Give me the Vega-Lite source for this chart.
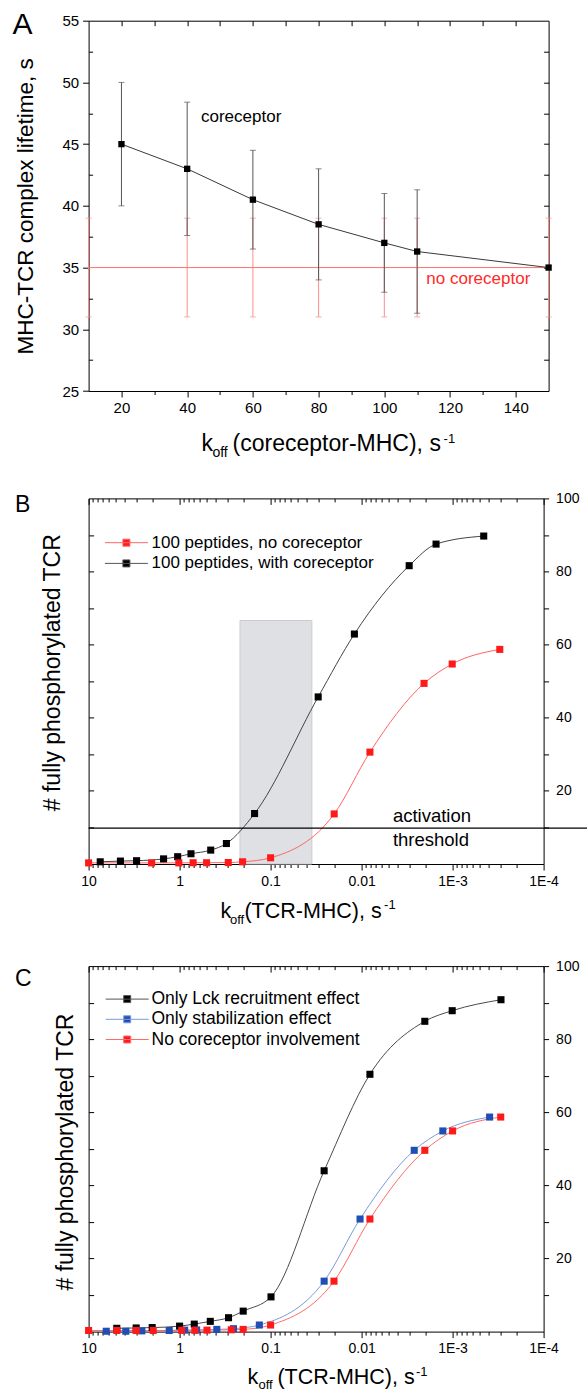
{
"$schema": "https://vega.github.io/schema/vega-lite/v6.json",
"autosize": {"type": "none"},
"padding": {"left": 88.6, "top": 20.7, "right": 498.4, "bottom": 1370.3},
"background": "white",
"config": {
  "view": {"stroke": null},
  "axis": {"grid": false, "domainColor": "#000", "tickColor": "#000", "labelColor": "#000", "titleColor": "#000", "labelFont": "Liberation Sans", "titleFont": "Liberation Sans", "titleFontWeight": "normal", "domainWidth": 1, "tickWidth": 1, "labelFlush": false, "labelOverlap": false},
  "title": {"font": "Liberation Sans", "fontWeight": "normal", "color": "#000"},
  "text": {"font": "Liberation Sans"}
},
"datasets": {
  "a": [
    {"x": 20, "y": 45, "lo": 40, "hi": 50, "s": "coreceptor"},
    {"x": 40, "y": 43, "lo": 37.6, "hi": 48.4, "s": "coreceptor"},
    {"x": 60, "y": 40.5, "lo": 36.5, "hi": 44.5, "s": "coreceptor"},
    {"x": 80, "y": 38.5, "lo": 34, "hi": 43, "s": "coreceptor"},
    {"x": 100, "y": 37, "lo": 33, "hi": 41, "s": "coreceptor"},
    {"x": 110, "y": 36.3, "lo": 31.3, "hi": 41.3, "s": "coreceptor"},
    {"x": 150, "y": 35, "lo": null, "hi": null, "s": "coreceptor"},
    {"x": 10, "y": 35, "lo": 31, "hi": 39, "s": "no coreceptor"},
    {"x": 40, "y": 35, "lo": 31, "hi": 39, "s": "no coreceptor"},
    {"x": 60, "y": 35, "lo": 31, "hi": 39, "s": "no coreceptor"},
    {"x": 80, "y": 35, "lo": 31, "hi": 39, "s": "no coreceptor"},
    {"x": 100, "y": 35, "lo": 31, "hi": 39, "s": "no coreceptor"},
    {"x": 110, "y": 35, "lo": 31, "hi": 39, "s": "no coreceptor"},
    {"x": 150, "y": 35, "lo": 31, "hi": 39, "s": "no coreceptor"}
  ],
  "aLab": [
    {"x": 44.2, "y": 47.2, "t": "coreceptor", "s": "coreceptor"},
    {"x": 112.8, "y": 34.05, "t": "no coreceptor", "s": "no coreceptor"}
  ],
  "b": [
    {"k": 7.45, "n": 0.6, "s": "100 peptides, with coreceptor"},
    {"k": 4.47, "n": 0.8, "s": "100 peptides, with coreceptor"},
    {"k": 2.97, "n": 0.9, "s": "100 peptides, with coreceptor"},
    {"k": 1.5, "n": 1.4, "s": "100 peptides, with coreceptor"},
    {"k": 1.05, "n": 2.0, "s": "100 peptides, with coreceptor"},
    {"k": 0.75, "n": 2.8, "s": "100 peptides, with coreceptor"},
    {"k": 0.455, "n": 3.8, "s": "100 peptides, with coreceptor"},
    {"k": 0.306, "n": 5.6, "s": "100 peptides, with coreceptor"},
    {"k": 0.15, "n": 13.8, "s": "100 peptides, with coreceptor"},
    {"k": 0.03, "n": 45.7, "s": "100 peptides, with coreceptor"},
    {"k": 0.012, "n": 62.9, "s": "100 peptides, with coreceptor"},
    {"k": 0.003, "n": 81.6, "s": "100 peptides, with coreceptor"},
    {"k": 0.00152, "n": 87.5, "s": "100 peptides, with coreceptor"},
    {"k": 0.000455, "n": 89.7, "s": "100 peptides, with coreceptor"},
    {"k": 10, "n": 0.3, "s": "100 peptides, no coreceptor"},
    {"k": 2.03, "n": 0.3, "s": "100 peptides, no coreceptor"},
    {"k": 1.02, "n": 0.3, "s": "100 peptides, no coreceptor"},
    {"k": 0.71, "n": 0.35, "s": "100 peptides, no coreceptor"},
    {"k": 0.505, "n": 0.35, "s": "100 peptides, no coreceptor"},
    {"k": 0.292, "n": 0.4, "s": "100 peptides, no coreceptor"},
    {"k": 0.203, "n": 0.6, "s": "100 peptides, no coreceptor"},
    {"k": 0.1, "n": 1.7, "s": "100 peptides, no coreceptor"},
    {"k": 0.02, "n": 13.7, "s": "100 peptides, no coreceptor"},
    {"k": 0.0081, "n": 30.6, "s": "100 peptides, no coreceptor"},
    {"k": 0.00206, "n": 49.4, "s": "100 peptides, no coreceptor"},
    {"k": 0.00101, "n": 54.7, "s": "100 peptides, no coreceptor"},
    {"k": 0.000303, "n": 58.7, "s": "100 peptides, no coreceptor"}
  ],
  "shade": [{"k1": 0.217, "k2": 0.0352, "v1": 0, "v2": 66.6}],
  "thr": [{"k1": 10, "k2": 0.00003, "v": 9.8}],
  "bLab": [
    {"k": 0.00453, "v": 13.0, "t": "activation"},
    {"k": 0.00453, "v": 6.6, "t": "threshold"}
  ],
  "c": [
    {"k": 4.9, "n": 0.9, "s": "Only Lck recruitment effect"},
    {"k": 3.0, "n": 1.0, "s": "Only Lck recruitment effect"},
    {"k": 2.0, "n": 1.1, "s": "Only Lck recruitment effect"},
    {"k": 1.0, "n": 1.5, "s": "Only Lck recruitment effect"},
    {"k": 0.69, "n": 2.05, "s": "Only Lck recruitment effect"},
    {"k": 0.46, "n": 2.8, "s": "Only Lck recruitment effect"},
    {"k": 0.29, "n": 3.8, "s": "Only Lck recruitment effect"},
    {"k": 0.2, "n": 5.6, "s": "Only Lck recruitment effect"},
    {"k": 0.099, "n": 9.5, "s": "Only Lck recruitment effect"},
    {"k": 0.0258, "n": 44.0, "s": "Only Lck recruitment effect"},
    {"k": 0.0081, "n": 70.4, "s": "Only Lck recruitment effect"},
    {"k": 0.00202, "n": 84.9, "s": "Only Lck recruitment effect"},
    {"k": 0.00101, "n": 87.8, "s": "Only Lck recruitment effect"},
    {"k": 0.000294, "n": 90.8, "s": "Only Lck recruitment effect"},
    {"k": 6.4, "n": 0.1, "s": "Only stabilization effect"},
    {"k": 3.9, "n": 0.1, "s": "Only stabilization effect"},
    {"k": 2.6, "n": 0.2, "s": "Only stabilization effect"},
    {"k": 1.3, "n": 0.3, "s": "Only stabilization effect"},
    {"k": 0.88, "n": 0.4, "s": "Only stabilization effect"},
    {"k": 0.65, "n": 0.45, "s": "Only stabilization effect"},
    {"k": 0.39, "n": 0.6, "s": "Only stabilization effect"},
    {"k": 0.256, "n": 0.8, "s": "Only stabilization effect"},
    {"k": 0.133, "n": 1.8, "s": "Only stabilization effect"},
    {"k": 0.0258, "n": 13.8, "s": "Only stabilization effect"},
    {"k": 0.0104, "n": 30.8, "s": "Only stabilization effect"},
    {"k": 0.00264, "n": 49.6, "s": "Only stabilization effect"},
    {"k": 0.00128, "n": 54.9, "s": "Only stabilization effect"},
    {"k": 0.000392, "n": 58.7, "s": "Only stabilization effect"},
    {"k": 10, "n": 0.3, "s": "No coreceptor involvement"},
    {"k": 4.9, "n": 0.3, "s": "No coreceptor involvement"},
    {"k": 3.0, "n": 0.3, "s": "No coreceptor involvement"},
    {"k": 1.95, "n": 0.3, "s": "No coreceptor involvement"},
    {"k": 0.95, "n": 0.35, "s": "No coreceptor involvement"},
    {"k": 0.68, "n": 0.35, "s": "No coreceptor involvement"},
    {"k": 0.5, "n": 0.4, "s": "No coreceptor involvement"},
    {"k": 0.27, "n": 0.5, "s": "No coreceptor involvement"},
    {"k": 0.2, "n": 0.6, "s": "No coreceptor involvement"},
    {"k": 0.1, "n": 1.8, "s": "No coreceptor involvement"},
    {"k": 0.0201, "n": 13.8, "s": "No coreceptor involvement"},
    {"k": 0.0081, "n": 30.8, "s": "No coreceptor involvement"},
    {"k": 0.00202, "n": 49.6, "s": "No coreceptor involvement"},
    {"k": 0.001, "n": 54.9, "s": "No coreceptor involvement"},
    {"k": 0.000296, "n": 58.7, "s": "No coreceptor involvement"}
  ]
},
"spacing": 106.7,
"bounds": "flush",
"resolve": {"scale": {"fill": "independent", "stroke": "independent", "color": "independent"}, "legend": {"fill": "independent", "stroke": "independent", "color": "independent"}},
"vconcat": [
{
  "width": 460, "height": 370.3,
  "title": {"text": "A", "anchor": "start", "frame": "group", "orient": "top", "align": "left", "baseline": "alphabetic", "fontSize": 30, "offset": -50.3, "dx": -76.2},
  "layer": [
    {"data": {"name": "a"}, "transform": [{"filter": "datum.s == 'no coreceptor'"}],
     "mark": {"type": "rule", "color": "#ff8c8c", "strokeWidth": 1},
     "encoding": {
       "x": {"field": "x", "type": "quantitative", "scale": {"domain": [10, 150], "nice": false, "zero": false},
             "axis": {"orient": "bottom", "values": [20, 40, 60, 80, 100, 120, 140], "tickSize": 6, "labelPadding": 3, "labelFontSize": 15, "domain": true, "title": "(coreceptor-MHC), s", "titleX": 143.5, "titleY": 59, "titleAlign": "left", "titleBaseline": "alphabetic", "titleFontSize": 23}},
       "y": {"field": "lo", "type": "quantitative", "scale": {"domain": [25, 55], "nice": false, "zero": false},
             "axis": {"orient": "left", "values": [25, 30, 35, 40, 45, 50, 55], "tickSize": 6, "labelPadding": 4, "labelFontSize": 15, "domain": true, "title": "MHC-TCR complex lifetime, s", "titleFontSize": 22.5, "titleX": -63.5, "titleY": 185.2, "titleBaseline": "middle"}},
       "y2": {"field": "hi"}
     }},
    {"data": {"name": "a"}, "transform": [{"filter": "datum.s == 'no coreceptor'"}, {"fold": ["lo", "hi"], "as": ["w", "v"]}],
     "mark": {"type": "tick", "orient": "horizontal", "color": "#ff8c8c", "size": 6, "thickness": 1},
     "encoding": {
       "x": {"field": "x", "type": "quantitative", "scale": {"domain": [10, 150], "nice": false, "zero": false},
             "axis": {"orient": "top", "values": [20, 30, 40, 50, 60, 70, 80, 90, 100, 110, 120, 130, 140], "tickSize": -5, "labels": false, "domain": true, "title": "-1", "titleX": 354.5, "titleY": 421.3, "titleAlign": "left", "titleBaseline": "alphabetic", "titleFontSize": 13}},
       "y": {"field": "v", "type": "quantitative", "scale": {"domain": [25, 55], "nice": false, "zero": false},
             "axis": {"orient": "right", "values": [27.5, 30, 32.5, 35, 37.5, 40, 42.5, 45, 47.5, 50, 52.5], "tickSize": -5, "labels": false, "domain": true, "title": null}}
     }},
    {"data": {"name": "a"}, "transform": [{"filter": "datum.s == 'no coreceptor'"}],
     "mark": {"type": "line", "color": "#ff7070", "strokeWidth": 1},
     "encoding": {
       "x": {"field": "x", "type": "quantitative", "scale": {"domain": [10, 150], "nice": false, "zero": false},
             "axis": {"orient": "bottom", "values": [30, 50, 70, 90, 110, 130], "tickSize": 3.5, "labels": false, "domain": false, "title": "off", "titleX": 123.3, "titleY": 65, "titleAlign": "left", "titleBaseline": "alphabetic", "titleFontSize": 14}},
       "y": {"field": "y", "type": "quantitative", "scale": {"domain": [25, 55], "nice": false, "zero": false},
             "axis": {"orient": "left", "values": [27.5, 32.5, 37.5, 42.5, 47.5, 52.5], "tickSize": -4, "labels": false, "domain": false, "title": null}}
     }},
    {"data": {"name": "a"}, "transform": [{"filter": "datum.s == 'coreceptor'"}],
     "mark": {"type": "rule", "color": "#555555", "strokeWidth": 1},
     "encoding": {
       "x": {"field": "x", "type": "quantitative", "scale": {"domain": [10, 150], "nice": false, "zero": false},
             "axis": {"orient": "top", "ticks": false, "labels": false, "domain": false, "title": "k", "titleX": 112.5, "titleY": 429.3, "titleAlign": "left", "titleBaseline": "alphabetic", "titleFontSize": 23}},
       "y": {"field": "lo", "type": "quantitative", "scale": {"domain": [25, 55], "nice": false, "zero": false}, "axis": null},
       "y2": {"field": "hi"}
     }},
    {"data": {"name": "a"}, "transform": [{"filter": "datum.s == 'coreceptor'"}, {"fold": ["lo", "hi"], "as": ["w", "v"]}],
     "mark": {"type": "tick", "orient": "horizontal", "color": "#555555", "size": 6, "thickness": 1},
     "encoding": {
       "x": {"field": "x", "type": "quantitative", "scale": {"domain": [10, 150], "nice": false, "zero": false}, "axis": null},
       "y": {"field": "v", "type": "quantitative", "scale": {"domain": [25, 55], "nice": false, "zero": false}, "axis": null}
     }},
    {"data": {"name": "a"}, "transform": [{"filter": "datum.s == 'coreceptor'"}],
     "mark": {"type": "line", "color": "#3a3a3a", "strokeWidth": 1},
     "encoding": {
       "x": {"field": "x", "type": "quantitative", "scale": {"domain": [10, 150], "nice": false, "zero": false}, "axis": null},
       "y": {"field": "y", "type": "quantitative", "scale": {"domain": [25, 55], "nice": false, "zero": false}, "axis": null}
     }},
    {"data": {"name": "a"}, "transform": [{"filter": "datum.s == 'coreceptor'"}],
     "mark": {"type": "point", "shape": "square", "filled": true, "color": "#000000", "size": 40, "opacity": 1},
     "encoding": {
       "x": {"field": "x", "type": "quantitative", "scale": {"domain": [10, 150], "nice": false, "zero": false}, "axis": null},
       "y": {"field": "y", "type": "quantitative", "scale": {"domain": [25, 55], "nice": false, "zero": false}, "axis": null}
     }},
    {"data": {"name": "aLab"},
     "mark": {"type": "text", "align": "left", "baseline": "middle", "fontSize": 17},
     "encoding": {
       "x": {"field": "x", "type": "quantitative", "scale": {"domain": [10, 150], "nice": false, "zero": false}, "axis": null},
       "y": {"field": "y", "type": "quantitative", "scale": {"domain": [25, 55], "nice": false, "zero": false}, "axis": null},
       "text": {"field": "t"},
       "color": {"field": "s", "type": "nominal", "scale": {"domain": ["coreceptor", "no coreceptor"], "range": ["#000000", "#ff2a2a"]}, "legend": null}
     }}
  ]
},
{
  "spacing": 101.7,
  "bounds": "flush",
  "resolve": {"scale": {"fill": "independent", "stroke": "independent", "color": "independent"}, "legend": {"fill": "independent", "stroke": "independent", "color": "independent"}},
  "vconcat": [
  {
    "width": 455, "height": 365.6,
    "title": {"text": "B", "anchor": "start", "frame": "group", "orient": "top", "align": "left", "baseline": "alphabetic", "fontSize": 23, "offset": -44, "dx": -73.7},
    "layer": [
      {"data": {"name": "shade"},
       "mark": {"type": "rect", "fill": "#dfe0e4", "stroke": "#cbccd0", "strokeWidth": 1},
       "encoding": {
         "x": {"field": "k1", "type": "quantitative", "scale": {"type": "log", "domain": [0.0001, 10], "reverse": true, "nice": false},
               "axis": {"orient": "bottom", "values": [10, 1, 0.1, 0.01, 0.001, 0.0001], "labelExpr": "datum.value == 10 ? '10' : datum.value == 1 ? '1' : datum.value == 0.1 ? '0.1' : datum.value == 0.01 ? '0.01' : datum.value == 0.001 ? '1E-3' : '1E-4'", "tickSize": 6, "labelPadding": 4, "labelFontSize": 14, "domain": true, "title": "(TCR-MHC), s", "titleX": 155.3, "titleY": 53, "titleAlign": "left", "titleBaseline": "alphabetic", "titleFontSize": 21.5}},
         "x2": {"field": "k2"},
         "y": {"field": "v1", "type": "quantitative", "scale": {"domain": [0, 100], "nice": false, "zero": false},
               "axis": {"orient": "left", "values": [10, 20, 30, 40, 50, 60, 70, 80, 90], "tickSize": -5, "labels": false, "domain": true, "title": "# fully phosphorylated TCR", "titleFontSize": 23, "titleX": -35.7, "titleY": 173.8, "titleBaseline": "middle"}},
         "y2": {"field": "v2"}
       }},
      {"data": {"name": "b"}, "transform": [{"filter": "datum.s == '100 peptides, no coreceptor'"}],
       "mark": {"type": "line", "color": "#ff6464", "strokeWidth": 1, "interpolate": "monotone"},
       "encoding": {
         "x": {"field": "k", "type": "quantitative", "scale": {"type": "log", "domain": [0.0001, 10], "reverse": true, "nice": false},
               "axis": {"orient": "top", "values": [10, 1, 0.1, 0.01, 0.001, 0.0001], "tickSize": -6, "labels": false, "domain": true, "title": "-1", "titleX": 295, "titleY": 409.6, "titleAlign": "left", "titleBaseline": "alphabetic", "titleFontSize": 13}},
         "y": {"field": "n", "type": "quantitative", "scale": {"domain": [0, 100], "nice": false, "zero": false},
               "axis": {"orient": "right", "values": [10, 20, 30, 40, 50, 60, 70, 80, 90, 100], "labelExpr": "datum.value % 20 == 0 ? datum.label : ''", "tickSize": 5, "labelPadding": 7, "labelFontSize": 14, "domain": true, "title": null}},
         "order": {"field": "k", "sort": "descending"}
       }},
      {"data": {"name": "b"}, "transform": [{"filter": "datum.s == '100 peptides, with coreceptor'"}],
       "mark": {"type": "line", "color": "#444444", "strokeWidth": 1, "interpolate": "monotone"},
       "encoding": {
         "x": {"field": "k", "type": "quantitative", "scale": {"type": "log", "domain": [0.0001, 10], "reverse": true, "nice": false},
               "axis": {"orient": "bottom", "values": [0.0002, 0.0003, 0.0004, 0.0005, 0.0006, 0.0007, 0.0008, 0.0009, 0.002, 0.003, 0.004, 0.005, 0.006, 0.007, 0.008, 0.009, 0.02, 0.03, 0.04, 0.05, 0.06, 0.07, 0.08, 0.09, 0.2, 0.3, 0.4, 0.5, 0.6, 0.7, 0.8, 0.9, 2, 3, 4, 5, 6, 7, 8, 9], "tickSize": 3.5, "labels": false, "domain": false, "title": "off", "titleX": 140.8, "titleY": 59, "titleAlign": "left", "titleBaseline": "alphabetic", "titleFontSize": 13}},
         "y": {"field": "n", "type": "quantitative", "scale": {"domain": [0, 100], "nice": false, "zero": false}, "axis": null},
         "order": {"field": "k", "sort": "descending"}
       }},
      {"data": {"name": "thr"},
       "mark": {"type": "rule", "color": "#000000", "strokeWidth": 1.2},
       "encoding": {
         "x": {"field": "k1", "type": "quantitative", "scale": {"type": "log", "domain": [0.0001, 10], "reverse": true, "nice": false},
               "axis": {"orient": "top", "values": [0.0002, 0.0003, 0.0004, 0.0005, 0.0006, 0.0007, 0.0008, 0.0009, 0.002, 0.003, 0.004, 0.005, 0.006, 0.007, 0.008, 0.009, 0.02, 0.03, 0.04, 0.05, 0.06, 0.07, 0.08, 0.09, 0.2, 0.3, 0.4, 0.5, 0.6, 0.7, 0.8, 0.9, 2, 3, 4, 5, 6, 7, 8, 9], "tickSize": -3.5, "labels": false, "domain": false, "title": "k", "titleX": 131.3, "titleY": 418.6, "titleAlign": "left", "titleBaseline": "alphabetic", "titleFontSize": 21.5}},
         "x2": {"field": "k2"},
         "y": {"field": "v", "type": "quantitative", "scale": {"domain": [0, 100], "nice": false, "zero": false}, "axis": null}
       }},
      {"data": {"name": "b"},
       "mark": {"type": "point", "shape": "square", "filled": true, "size": 50, "strokeWidth": 0, "opacity": 1},
       "encoding": {
         "x": {"field": "k", "type": "quantitative", "scale": {"type": "log", "domain": [0.0001, 10], "reverse": true, "nice": false}, "axis": null},
         "y": {"field": "n", "type": "quantitative", "scale": {"domain": [0, 100], "nice": false, "zero": false}, "axis": null},
         "fill": {"field": "s", "type": "nominal", "scale": {"domain": ["100 peptides, no coreceptor", "100 peptides, with coreceptor"], "range": ["#ff1a1a", "#000000"]},
                  "legend": {"orient": "none", "legendX": 27.3, "legendY": 33.8, "title": null, "symbolType": "M-2.15,0H2.15M-0.35,-0.35H0.35V0.35H-0.35Z", "symbolSize": 400, "symbolStrokeWidth": 1, "symbolOpacity": 1, "labelFont": "Liberation Sans", "labelFontSize": 17, "labelColor": "#000", "labelOffset": 14.6, "symbolOffset": 0, "rowPadding": 1.7, "padding": 0, "labelLimit": 400,
                             "encode": {"symbols": {"update": {"shape": {"value": "M-2.15,0H2.15M-0.35,-0.35H0.35V0.35H-0.35Z"}, "size": {"value": 400}, "strokeWidth": {"value": 1}, "opacity": {"value": 1}}}}}},
         "stroke": {"field": "s", "type": "nominal", "scale": {"domain": ["100 peptides, no coreceptor", "100 peptides, with coreceptor"], "range": ["#ff6464", "#555555"]},
                  "legend": {"orient": "none", "legendX": 27.3, "legendY": 33.8, "title": null, "symbolType": "M-2.15,0H2.15M-0.35,-0.35H0.35V0.35H-0.35Z", "symbolSize": 400, "symbolStrokeWidth": 1, "symbolOpacity": 1, "labelFont": "Liberation Sans", "labelFontSize": 17, "labelColor": "#000", "labelOffset": 14.6, "symbolOffset": 0, "rowPadding": 1.7, "padding": 0, "labelLimit": 400,
                             "encode": {"symbols": {"update": {"shape": {"value": "M-2.15,0H2.15M-0.35,-0.35H0.35V0.35H-0.35Z"}, "size": {"value": 400}, "strokeWidth": {"value": 1}, "opacity": {"value": 1}}}}}}
       }},
      {"data": {"name": "bLab"},
       "mark": {"type": "text", "align": "left", "baseline": "middle", "fontSize": 18.5, "color": "#000"},
       "encoding": {
         "x": {"field": "k", "type": "quantitative", "scale": {"type": "log", "domain": [0.0001, 10], "reverse": true, "nice": false}, "axis": null},
         "y": {"field": "v", "type": "quantitative", "scale": {"domain": [0, 100], "nice": false, "zero": false}, "axis": null},
         "text": {"field": "t"}
       }}
    ]
  },
  {
    "width": 455, "height": 365.5,
    "title": {"text": "C", "anchor": "start", "frame": "group", "orient": "top", "align": "left", "baseline": "alphabetic", "fontSize": 23, "offset": -50, "dx": -73.7},
    "layer": [
      {"data": {"name": "c"}, "transform": [{"filter": "datum.s == 'Only Lck recruitment effect'"}],
       "mark": {"type": "line", "color": "#4a4a4a", "strokeWidth": 1, "interpolate": "monotone"},
       "encoding": {
         "x": {"field": "k", "type": "quantitative", "scale": {"type": "log", "domain": [0.0001, 10], "reverse": true, "nice": false},
               "axis": {"orient": "bottom", "values": [10, 1, 0.1, 0.01, 0.001, 0.0001], "labelExpr": "datum.value == 10 ? '10' : datum.value == 1 ? '1' : datum.value == 0.1 ? '0.1' : datum.value == 0.01 ? '0.01' : datum.value == 0.001 ? '1E-3' : '1E-4'", "tickSize": 6, "labelPadding": 4, "labelFontSize": 14, "domain": true, "title": "(TCR-MHC), s", "titleX": 188.3, "titleY": 51.5, "titleAlign": "left", "titleBaseline": "alphabetic", "titleFontSize": 21.5}},
         "y": {"field": "n", "type": "quantitative", "scale": {"domain": [0, 100], "nice": false, "zero": false},
               "axis": {"orient": "left", "values": [10, 20, 30, 40, 50, 60, 70, 80, 90], "tickSize": -5, "labels": false, "domain": true, "title": "# fully phosphorylated TCR", "titleFontSize": 23, "titleX": -23.2, "titleY": 185.5, "titleBaseline": "middle"}},
         "order": {"field": "k", "sort": "descending"}
       }},
      {"data": {"name": "c"}, "transform": [{"filter": "datum.s == 'Only stabilization effect'"}],
       "mark": {"type": "line", "color": "#7b9ad9", "strokeWidth": 1, "interpolate": "monotone"},
       "encoding": {
         "x": {"field": "k", "type": "quantitative", "scale": {"type": "log", "domain": [0.0001, 10], "reverse": true, "nice": false},
               "axis": {"orient": "top", "values": [10, 1, 0.1, 0.01, 0.001, 0.0001], "tickSize": -6, "labels": false, "domain": true, "title": "-1", "titleX": 326.9, "titleY": 409, "titleAlign": "left", "titleBaseline": "alphabetic", "titleFontSize": 13}},
         "y": {"field": "n", "type": "quantitative", "scale": {"domain": [0, 100], "nice": false, "zero": false},
               "axis": {"orient": "right", "values": [10, 20, 30, 40, 50, 60, 70, 80, 90, 100], "labelExpr": "datum.value % 20 == 0 ? datum.label : ''", "tickSize": 5, "labelPadding": 7, "labelFontSize": 14, "domain": true, "title": null}},
         "order": {"field": "k", "sort": "descending"}
       }},
      {"data": {"name": "c"}, "transform": [{"filter": "datum.s == 'No coreceptor involvement'"}],
       "mark": {"type": "line", "color": "#ff6a6a", "strokeWidth": 1, "interpolate": "monotone"},
       "encoding": {
         "x": {"field": "k", "type": "quantitative", "scale": {"type": "log", "domain": [0.0001, 10], "reverse": true, "nice": false},
               "axis": {"orient": "bottom", "values": [0.0002, 0.0003, 0.0004, 0.0005, 0.0006, 0.0007, 0.0008, 0.0009, 0.002, 0.003, 0.004, 0.005, 0.006, 0.007, 0.008, 0.009, 0.02, 0.03, 0.04, 0.05, 0.06, 0.07, 0.08, 0.09, 0.2, 0.3, 0.4, 0.5, 0.6, 0.7, 0.8, 0.9, 2, 3, 4, 5, 6, 7, 8, 9], "tickSize": 3.5, "labels": false, "domain": false, "title": "off", "titleX": 169.3, "titleY": 57, "titleAlign": "left", "titleBaseline": "alphabetic", "titleFontSize": 13}},
         "y": {"field": "n", "type": "quantitative", "scale": {"domain": [0, 100], "nice": false, "zero": false}, "axis": null},
         "order": {"field": "k", "sort": "descending"}
       }},
      {"data": {"name": "c"},
       "mark": {"type": "point", "shape": "square", "filled": true, "size": 50, "strokeWidth": 0, "opacity": 1},
       "encoding": {
         "x": {"field": "k", "type": "quantitative", "scale": {"type": "log", "domain": [0.0001, 10], "reverse": true, "nice": false},
               "axis": {"orient": "top", "values": [0.0002, 0.0003, 0.0004, 0.0005, 0.0006, 0.0007, 0.0008, 0.0009, 0.002, 0.003, 0.004, 0.005, 0.006, 0.007, 0.008, 0.009, 0.02, 0.03, 0.04, 0.05, 0.06, 0.07, 0.08, 0.09, 0.2, 0.3, 0.4, 0.5, 0.6, 0.7, 0.8, 0.9, 2, 3, 4, 5, 6, 7, 8, 9], "tickSize": -3.5, "labels": false, "domain": false, "title": "k", "titleX": 158.3, "titleY": 417, "titleAlign": "left", "titleBaseline": "alphabetic", "titleFontSize": 21.5}},
         "y": {"field": "n", "type": "quantitative", "scale": {"domain": [0, 100], "nice": false, "zero": false}, "axis": null},
         "fill": {"field": "s", "type": "nominal", "scale": {"domain": ["Only Lck recruitment effect", "Only stabilization effect", "No coreceptor involvement"], "range": ["#000000", "#1f4eb4", "#ff1a1a"]},
                  "legend": {"orient": "none", "legendX": 28.1, "legendY": 22.5, "title": null, "symbolType": "M-2.15,0H2.15M-0.35,-0.35H0.35V0.35H-0.35Z", "symbolSize": 400, "symbolStrokeWidth": 1, "symbolOpacity": 1, "labelFont": "Liberation Sans", "labelFontSize": 17.5, "labelColor": "#000", "labelOffset": 13.8, "symbolOffset": 0, "rowPadding": 1.2, "padding": 0, "labelLimit": 400,
                             "encode": {"symbols": {"update": {"shape": {"value": "M-2.15,0H2.15M-0.35,-0.35H0.35V0.35H-0.35Z"}, "size": {"value": 400}, "strokeWidth": {"value": 1}, "opacity": {"value": 1}}}}}},
         "stroke": {"field": "s", "type": "nominal", "scale": {"domain": ["Only Lck recruitment effect", "Only stabilization effect", "No coreceptor involvement"], "range": ["#555555", "#7b9ad9", "#ff6a6a"]},
                  "legend": {"orient": "none", "legendX": 28.1, "legendY": 22.5, "title": null, "symbolType": "M-2.15,0H2.15M-0.35,-0.35H0.35V0.35H-0.35Z", "symbolSize": 400, "symbolStrokeWidth": 1, "symbolOpacity": 1, "labelFont": "Liberation Sans", "labelFontSize": 17.5, "labelColor": "#000", "labelOffset": 13.8, "symbolOffset": 0, "rowPadding": 1.2, "padding": 0, "labelLimit": 400,
                             "encode": {"symbols": {"update": {"shape": {"value": "M-2.15,0H2.15M-0.35,-0.35H0.35V0.35H-0.35Z"}, "size": {"value": 400}, "strokeWidth": {"value": 1}, "opacity": {"value": 1}}}}}}
       }}
    ]
  }
  ]
}
]
}
